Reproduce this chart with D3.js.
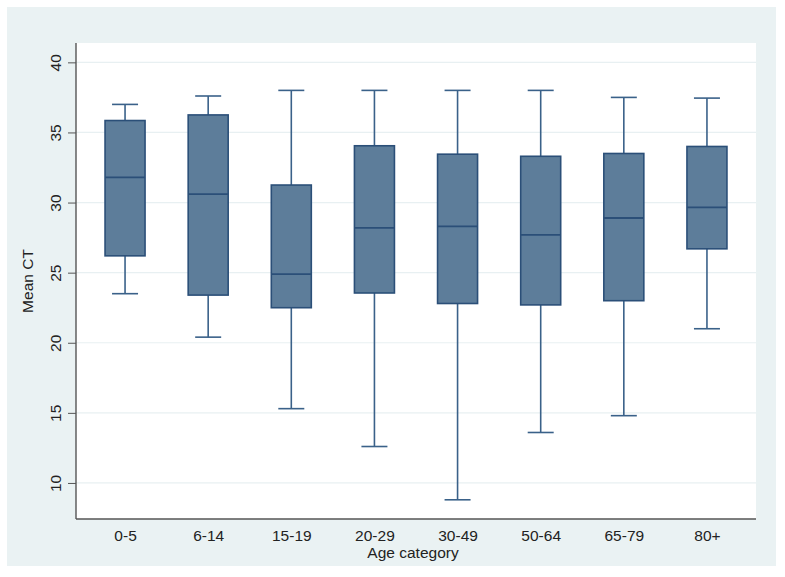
<!DOCTYPE html>
<html>
<head>
    <meta charset="utf-8">
    <style>
        html, body {
            margin: 0;
            padding: 0;
            background: #ffffff;
        }

        svg {
            display: block;
            font-family: "Liberation Sans", Arial, sans-serif;
        }
    </style>
</head>
<body>
<div id="chart"></div>

<script src="https://cdn.jsdelivr.net/npm/d3@7"></script>
<script>
    "use strict";

    // age groups and box statistics
    const categories = ["0-5", "6-14", "15-19", "20-29", "30-49", "50-64", "65-79", "80+"];
    const lowerWhisker = [23.5, 20.4, 15.3, 12.6, 8.8, 13.6, 14.8, 21.0];
    const q1 = [26.2, 23.4, 22.5, 23.55, 22.8, 22.7, 23.0, 26.7];
    const median = [31.8, 30.6, 24.9, 28.2, 28.3, 27.7, 28.9, 29.65];
    const q3 = [35.85, 36.25, 31.25, 34.05, 33.45, 33.3, 33.5, 34.0];
    const upperWhisker = [37.0, 37.6, 38.0, 38.0, 38.0, 38.0, 37.5, 37.45];
    const yTicks = [10, 15, 20, 25, 30, 35, 40];

    const WIDTH = 785;
    const HEIGHT = 577;
    const BG = "#eaf2f3";
    const BOX_FILL = "#5d7d9a";
    const BOX_STROKE = "#2b4f78";
    const WHISKER = "#3a6189";
    const FONT_SIZE = "15.5px";

    const plot = {left: 76, right: 756, top: 43, bottom: 519};

    const rows = categories.map(function (c, i) {
        return {
            cat: c,
            lo: lowerWhisker[i],
            q1: q1[i],
            med: median[i],
            q3: q3[i],
            hi: upperWhisker[i]
        };
    });

    const svg = d3.select("#chart").append("svg")
        .attr("width", WIDTH)
        .attr("height", HEIGHT);

    // outer graph region
    svg.append("rect")
        .attr("x", 7).attr("y", 7)
        .attr("width", 769).attr("height", 559)
        .attr("fill", BG);

    // plot region
    svg.append("rect")
        .attr("x", plot.left).attr("y", plot.top)
        .attr("width", plot.right - plot.left)
        .attr("height", plot.bottom - plot.top)
        .attr("fill", "#ffffff");

    const x = d3.scalePoint()
        .domain(categories)
        .range([plot.left, plot.right])
        .padding(0.59);

    const y = d3.scaleLinear()
        .domain([7.43, 41.38])
        .range([plot.bottom, plot.top]);

    // gridlines
    svg.append("g")
        .selectAll("line")
        .data(yTicks)
        .enter()
        .append("line")
        .attr("x1", plot.left)
        .attr("x2", plot.right)
        .attr("y1", function (d) { return y(d); })
        .attr("y2", function (d) { return y(d); })
        .attr("stroke", "#e8f0f2")
        .attr("stroke-width", 1.2);

    const BOX_W = 40;
    const CAP_W = 26;

    const boxes = svg.append("g")
        .selectAll("g")
        .data(rows)
        .enter()
        .append("g")
        .attr("transform", function (d) { return "translate(" + x(d.cat) + ",0)"; });

    // whiskers
    boxes.append("line")
        .attr("x1", 0).attr("x2", 0)
        .attr("y1", function (d) { return y(d.hi); })
        .attr("y2", function (d) { return y(d.q3); })
        .attr("stroke", WHISKER).attr("stroke-width", 1.6);
    boxes.append("line")
        .attr("x1", 0).attr("x2", 0)
        .attr("y1", function (d) { return y(d.q1); })
        .attr("y2", function (d) { return y(d.lo); })
        .attr("stroke", WHISKER).attr("stroke-width", 1.6);

    // caps
    boxes.append("line")
        .attr("x1", -CAP_W / 2).attr("x2", CAP_W / 2)
        .attr("y1", function (d) { return y(d.hi); })
        .attr("y2", function (d) { return y(d.hi); })
        .attr("stroke", WHISKER).attr("stroke-width", 1.6);
    boxes.append("line")
        .attr("x1", -CAP_W / 2).attr("x2", CAP_W / 2)
        .attr("y1", function (d) { return y(d.lo); })
        .attr("y2", function (d) { return y(d.lo); })
        .attr("stroke", WHISKER).attr("stroke-width", 1.6);

    // box body
    boxes.append("rect")
        .attr("x", -BOX_W / 2)
        .attr("width", BOX_W)
        .attr("y", function (d) { return y(d.q3); })
        .attr("height", function (d) { return y(d.q1) - y(d.q3); })
        .attr("fill", BOX_FILL)
        .attr("stroke", BOX_STROKE)
        .attr("stroke-width", 1.6);

    // median
    boxes.append("line")
        .attr("x1", -BOX_W / 2).attr("x2", BOX_W / 2)
        .attr("y1", function (d) { return y(d.med); })
        .attr("y2", function (d) { return y(d.med); })
        .attr("stroke", BOX_STROKE).attr("stroke-width", 1.8);

    // y axis
    const yAxis = svg.append("g")
        .attr("transform", "translate(" + plot.left + ",0)")
        .call(d3.axisLeft(y).tickValues(yTicks).tickSize(8).tickPadding(0).tickFormat(d3.format("d")));
    yAxis.select(".domain").remove();
    yAxis.selectAll(".tick line").attr("stroke", "#555555").attr("stroke-width", 1);
    yAxis.selectAll(".tick text")
        .attr("x", 0).attr("dy", 0)
        .attr("transform", "translate(-21,0) rotate(-90)")
        .attr("text-anchor", "middle")
        .attr("dominant-baseline", "central")
        .attr("fill", "#222222")
        .style("font-size", FONT_SIZE)
        .style("font-family", "'Liberation Sans', Arial, sans-serif");

    // x axis
    const xAxis = svg.append("g")
        .attr("transform", "translate(0," + plot.bottom + ")")
        .call(d3.axisBottom(x).tickSize(0).tickPadding(11));
    xAxis.select(".domain").remove();
    xAxis.selectAll(".tick text")
        .attr("fill", "#222222")
        .style("font-size", FONT_SIZE)
        .style("font-family", "'Liberation Sans', Arial, sans-serif");

    // axis lines
    svg.append("line")
        .attr("x1", plot.left).attr("x2", plot.left)
        .attr("y1", plot.top).attr("y2", plot.bottom)
        .attr("stroke", "#555555").attr("stroke-width", 1.4);
    svg.append("line")
        .attr("x1", plot.left).attr("x2", plot.right)
        .attr("y1", plot.bottom).attr("y2", plot.bottom)
        .attr("stroke", "#555555").attr("stroke-width", 1.4);

    // axis titles
    svg.append("text")
        .attr("x", (plot.left + plot.right) / 2 - 3)
        .attr("y", 558)
        .attr("text-anchor", "middle")
        .attr("fill", "#222222")
        .style("font-size", FONT_SIZE)
        .text("Age category");

    svg.append("text")
        .attr("transform", "translate(33," + ((plot.top + plot.bottom) / 2) + ") rotate(-90)")
        .attr("text-anchor", "middle")
        .attr("fill", "#222222")
        .style("font-size", FONT_SIZE)
        .text("Mean CT");
</script>
</body>
</html>
